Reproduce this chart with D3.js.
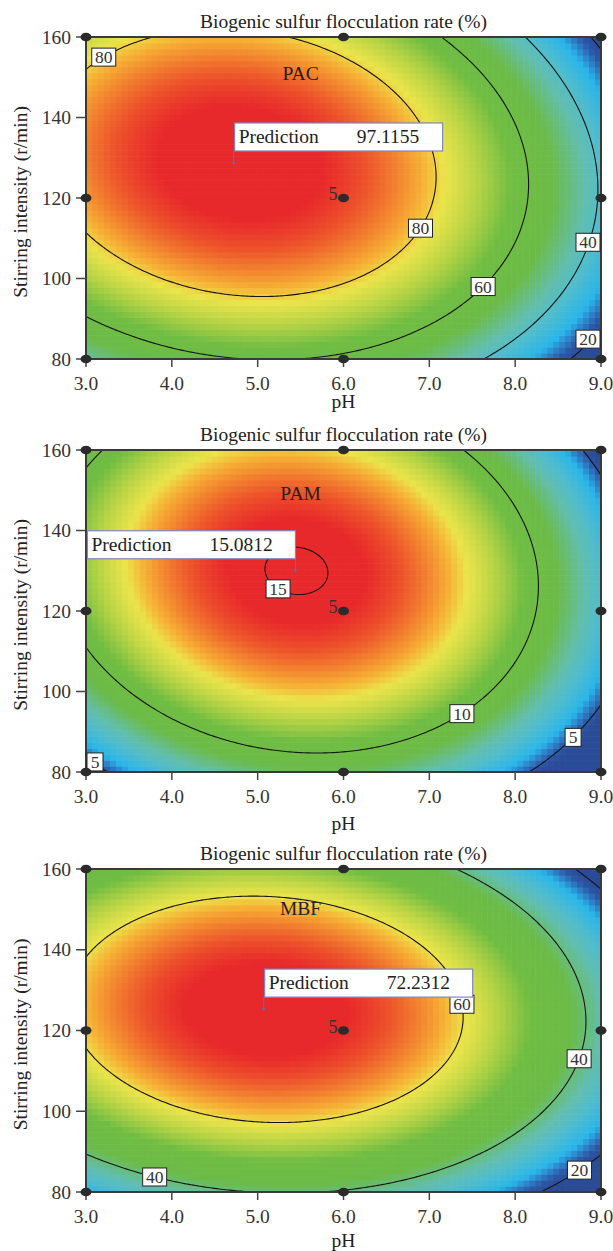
<!DOCTYPE html>
<html>
<head>
<meta charset="utf-8">
<script src="https://cdn.jsdelivr.net/npm/d3@7"></script>
<style>
  body { margin: 0; background: #fff; }
  svg text { font-family: "Liberation Serif", "Times New Roman", serif; }
</style>
</head>
<body>
<div id="chart"></div>
<script>
// Fitted quadratic models in coded units: A = (pH - 6) / 3, B = (stirring - 120) / 40
const flocculants = ['PAC', 'PAM', 'MBF'];
const coefIntercept = [91.62, 14.68, 70.03];
const coefA = [-22.68, -1.92, -12.21];
const coefB = [8.6, 1.85, 5.65];
const coefAB = [-6, -0.8, -3];
const coefA2 = [-30, -5.8, -21];
const coefB2 = [-25, -4.0, -25];

const contourLevels = [[20, 40, 60, 80], [5, 10, 15], [20, 40, 60]];
const colorLow = [19.5, 4.5, 20];
const colorHigh = [97.1, 15.09, 72.23];

const predictionPH = [4.72, 5.44, 5.07];
const predictionStir = [128.7, 130.0, 125.3];
const predictionText = ['97.1155', '15.0812', '72.2312'];

const designPH = [3, 6, 9];
const designStir = [80, 120, 160];
const centerRuns = 5;

const phTicks = [3, 4, 5, 6, 7, 8, 9];
const stirTicks = [80, 100, 120, 140, 160];

// layout
const W = 613, H = 1251;
const plotLeft = 86, plotRight = 601;
const panelTop = [37, 450, 869];
const panelBottom = [359, 772, 1192];
const axisTitleY = [408, 830, 1247];
const nameY = [80, 500, 915];
// where the contour labels sit (level, pH, stirring), snapped onto the line
const labelSpots = [
    [[80, 3.15, 157.5], [80, 6.82, 113.3], [60, 7.57, 99.6], [40, 8.84, 109.3], [20, 8.84, 86.2]],
    [[15, 5.28, 127.2], [10, 7.32, 96.4], [5, 3.09, 83.2], [5, 8.62, 89.9]],
    [[60, 7.36, 126.3], [40, 8.67, 113.5], [40, 3.82, 86.2], [20, 8.69, 87.5]]
];

// Design-Expert style ramp, blue -> cyan -> green -> yellow -> red
const rampStops = [0, 0.05, 0.10, 0.14, 0.24, 0.32, 0.44, 0.58, 0.68, 0.76, 0.81, 0.86, 0.91, 0.96];
const rampColors = ['#2a4b98', '#2c56a5', '#2e86cc', '#29b6ea', '#4fbcce', '#62beae', '#6cbb48',
    '#70bd43', '#b8d445', '#ebe44b', '#f6b035', '#f2822f', '#ed522b', '#e8292b'];
const ramp = d3.scaleLinear().domain(rampStops).range(rampColors).clamp(true);

function model(k, ph, stir) {
    const a = (ph - 6) / 3, b = (stir - 120) / 40;
    return coefIntercept[k] + coefA[k] * a + coefB[k] * b + coefAB[k] * a * b +
        coefA2[k] * a * a + coefB2[k] * b * b;
}

var svg = d3.select('#chart').append('svg')
    .attr('width', W)
    .attr('height', H);

var defs = svg.append('defs');

flocculants.forEach(function(name, k) {
    var x = d3.scaleLinear().domain([3, 9]).range([plotLeft, plotRight]);
    var y = d3.scaleLinear().domain([80, 160]).range([panelBottom[k], panelTop[k]]);
    var top = panelTop[k], bottom = panelBottom[k];
    var g = svg.append('g');

    var clipId = 'clip' + k;
    defs.append('clipPath').attr('id', clipId).append('rect')
        .attr('x', plotLeft).attr('y', top)
        .attr('width', plotRight - plotLeft).attr('height', bottom - top);

    // Heat map cells
    var nCol = 86, nRow = 54;
    var cells = d3.range(nCol * nRow).map(function(idx) {
        var i = idx % nCol, j = Math.floor(idx / nCol);
        var ph0 = 3 + 6 * i / nCol, ph1 = 3 + 6 * (i + 1) / nCol;
        var s0 = 80 + 80 * j / nRow, s1 = 80 + 80 * (j + 1) / nRow;
        return { ph0: ph0, ph1: ph1, s0: s0, s1: s1, v: model(k, (ph0 + ph1) / 2, (s0 + s1) / 2) };
    });
    var color = function(v) { return ramp((v - colorLow[k]) / (colorHigh[k] - colorLow[k])); };

    g.append('g').attr('clip-path', 'url(#' + clipId + ')')
        .selectAll('rect')
        .data(cells)
        .enter().append('rect')
        .attr('x', d => x(d.ph0))
        .attr('y', d => y(d.s1))
        .attr('width', d => x(d.ph1) - x(d.ph0) + 0.6)
        .attr('height', d => y(d.s0) - y(d.s1) + 0.6)
        .attr('fill', d => color(d.v));

    // Contour lines on a finer grid that runs past the frame
    var gx0 = 2.7, gdx = 0.025, gnx = 265;
    var gy0 = 74, gdy = 0.5, gny = 185;
    var values = new Float64Array(gnx * gny);
    for (var j = 0; j < gny; j++) {
        for (var i = 0; i < gnx; i++) {
            values[j * gnx + i] = model(k, gx0 + i * gdx, gy0 + j * gdy);
        }
    }
    var contours = d3.contours().size([gnx, gny]).thresholds(contourLevels[k])(values);
    var toPx = function(p) {
        return [x(gx0 + (p[0] - 0.5) * gdx), y(gy0 + (p[1] - 0.5) * gdy)];
    };
    var path = d3.geoPath(d3.geoTransform({
        point: function(px, py) {
            var q = toPx([px, py]);
            this.stream.point(q[0], q[1]);
        }
    }));

    g.append('g').attr('clip-path', 'url(#' + clipId + ')')
        .selectAll('path')
        .data(contours)
        .enter().append('path')
        .attr('d', path)
        .attr('fill', 'none')
        .attr('stroke', '#151515')
        .attr('stroke-width', 1.1);

    // Frame
    g.append('rect')
        .attr('x', plotLeft).attr('y', top)
        .attr('width', plotRight - plotLeft).attr('height', bottom - top)
        .attr('fill', 'none')
        .attr('stroke', '#3a3a3a')
        .attr('stroke-width', 2);

    // Axes
    g.selectAll('.ytick')
        .data(stirTicks)
        .enter().append('line')
        .attr('x1', plotLeft - 10).attr('x2', plotLeft)
        .attr('y1', d => y(d)).attr('y2', d => y(d))
        .attr('stroke', '#444').attr('stroke-width', 1.5);
    g.selectAll('.ylab')
        .data(stirTicks)
        .enter().append('text')
        .attr('x', plotLeft - 15)
        .attr('y', d => y(d) + 6.5)
        .attr('text-anchor', 'end')
        .attr('font-size', 19.5)
        .attr('fill', '#333')
        .text(d => d);
    g.selectAll('.xtick')
        .data(phTicks)
        .enter().append('line')
        .attr('x1', d => x(d)).attr('x2', d => x(d))
        .attr('y1', bottom).attr('y2', bottom + 8)
        .attr('stroke', '#444').attr('stroke-width', 1.5);
    g.selectAll('.xlab')
        .data(phTicks)
        .enter().append('text')
        .attr('x', d => x(d))
        .attr('y', bottom + 30.5)
        .attr('text-anchor', 'middle')
        .attr('font-size', 19.5)
        .attr('fill', '#333')
        .text(d => d.toFixed(1));

    // Titles
    g.append('text')
        .attr('x', (plotLeft + plotRight) / 2)
        .attr('y', top - 9.5)
        .attr('text-anchor', 'middle')
        .attr('font-size', 19.5)
        .attr('fill', '#222')
        .text('Biogenic sulfur flocculation rate (%)');
    g.append('text')
        .attr('x', (plotLeft + plotRight) / 2)
        .attr('y', axisTitleY[k])
        .attr('text-anchor', 'middle')
        .attr('font-size', 19.5)
        .attr('fill', '#222')
        .text('pH');
    g.append('text')
        .attr('transform', 'translate(27,' + ((top + bottom) / 2 + 4) + ') rotate(-90)')
        .attr('text-anchor', 'middle')
        .attr('font-size', 19.5)
        .attr('fill', '#222')
        .text('Stirring intensity (r/min)');
    g.append('text')
        .attr('x', x(5.5))
        .attr('y', nameY[k])
        .attr('text-anchor', 'middle')
        .attr('font-size', 19.5)
        .attr('fill', '#222')
        .text(name);

    // Contour labels, snapped to the nearest point of their line
    labelSpots[k].forEach(function(spot) {
        var level = spot[0];
        var target = [x(spot[1]), y(spot[2])];
        var c = contours.find(d => d.value === level);
        var best = target, bestD = Infinity;
        c.coordinates.forEach(function(poly) {
            poly.forEach(function(ring) {
                ring.forEach(function(p) {
                    var q = toPx(p);
                    if (q[0] < plotLeft || q[0] > plotRight || q[1] < top || q[1] > bottom) return;
                    var dd = (q[0] - target[0]) ** 2 + (q[1] - target[1]) ** 2;
                    if (dd < bestD) { bestD = dd; best = q; }
                });
            });
        });
        var txt = String(level);
        var bw = txt.length > 1 ? 24 : 16, bh = 18;
        var cx = Math.max(plotLeft + bw / 2 + 1, Math.min(plotRight - bw / 2 - 1, best[0]));
        var cy = Math.max(top + bh / 2 + 1, Math.min(bottom - bh / 2 - 1, best[1]));
        g.append('rect')
            .attr('x', cx - bw / 2).attr('y', cy - bh / 2)
            .attr('width', bw).attr('height', bh)
            .attr('fill', '#fff')
            .attr('stroke', '#222')
            .attr('stroke-width', 1);
        g.append('text')
            .attr('x', cx).attr('y', cy + 6)
            .attr('text-anchor', 'middle')
            .attr('font-size', 17.5)
            .attr('fill', '#333')
            .text(txt);
    });

    // Design points
    var pts = [];
    designPH.forEach(ph => designStir.forEach(s => pts.push([ph, s])));
    g.selectAll('.pt')
        .data(pts)
        .enter().append('ellipse')
        .attr('cx', d => x(d[0])).attr('cy', d => y(d[1]))
        .attr('rx', 5.5).attr('ry', 4.3)
        .attr('fill', '#2b2b2b');
    g.append('text')
        .attr('x', x(6) - 6).attr('y', y(120) + 2)
        .attr('text-anchor', 'end')
        .attr('font-size', 18)
        .attr('fill', '#333')
        .text(centerRuns);

    // Prediction flag
    var fx = x(predictionPH[k]), fy = y(predictionStir[k]);
    var bw = 208, bh = 28;
    var boxLeft = k === 1 ? fx - bw : fx + 1;
    var boxTop = fy - 12 - bh;
    g.append('line')
        .attr('x1', fx).attr('x2', fx)
        .attr('y1', fy).attr('y2', boxTop + bh)
        .attr('stroke', '#5b6fb5').attr('stroke-width', 1);
    g.append('circle')
        .attr('cx', fx).attr('cy', fy).attr('r', 1.3)
        .attr('fill', '#5b6fb5');
    g.append('rect')
        .attr('x', boxLeft).attr('y', boxTop)
        .attr('width', bw).attr('height', bh)
        .attr('fill', '#fff')
        .attr('stroke', '#7f86c6')
        .attr('stroke-width', 1.2);
    g.append('text')
        .attr('x', boxLeft + 4).attr('y', boxTop + 20)
        .attr('font-size', 19.5)
        .attr('fill', '#222')
        .text('Prediction');
    g.append('text')
        .attr('x', boxLeft + 122).attr('y', boxTop + 20)
        .attr('font-size', 19.5)
        .attr('fill', '#222')
        .text(predictionText[k]);
});
</script>
</body>
</html>
